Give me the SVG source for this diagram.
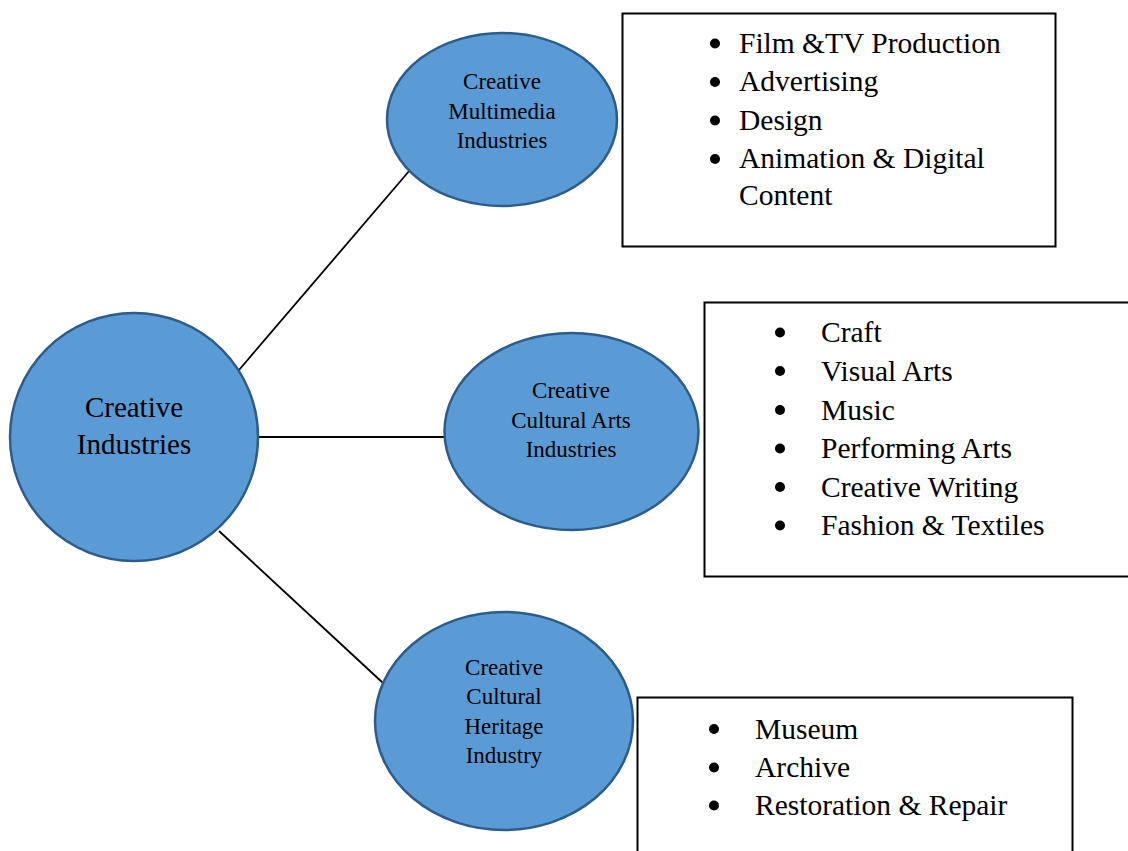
<svg xmlns="http://www.w3.org/2000/svg" width="1128" height="851" viewBox="0 0 1128 851">
  <style>
    .bubble { fill: #5B9BD5; stroke: #2E5C8A; stroke-width: 2.5; }
    .box { fill: #FFFFFF; stroke: #000000; stroke-width: 2; }
    .link { stroke: #000000; stroke-width: 1.8; fill: none; }
    .label { font-family: "Liberation Serif", "Times New Roman", serif; fill: #000000; text-anchor: middle; }
    .item { font-family: "Liberation Serif", "Times New Roman", serif; fill: #000000; font-size: 29.5px; }
    .dot { fill: #000000; }
  </style>
  <rect width="1128" height="851" fill="#FFFFFF"/>

  <!-- spokes from the hub to each branch -->
  <g id="connectors">
    <line class="link" x1="239" y1="370" x2="410" y2="170"/>
    <line class="link" x1="258" y1="437" x2="444" y2="437"/>
    <line class="link" x1="219" y1="531" x2="383" y2="683"/>
  </g>

  <!-- hub -->
  <g id="creative-industries">
    <ellipse class="bubble" cx="134" cy="437" rx="124" ry="124"/>
    <text class="label" font-size="29" x="134" y="417">Creative</text>
    <text class="label" font-size="29" x="134" y="454">Industries</text>
  </g>

  <!-- branch: multimedia -->
  <g id="multimedia">
    <ellipse class="bubble" cx="502" cy="119.5" rx="115" ry="86.5"/>
    <text class="label" font-size="23" x="502" y="89">Creative</text>
    <text class="label" font-size="23" x="502" y="118.5">Multimedia</text>
    <text class="label" font-size="23" x="502" y="147.5">Industries</text>
  </g>

  <!-- branch: cultural arts -->
  <g id="cultural-arts">
    <ellipse class="bubble" cx="571.5" cy="431.5" rx="127" ry="98.5"/>
    <text class="label" font-size="23" x="571" y="398">Creative</text>
    <text class="label" font-size="23" x="571" y="428">Cultural Arts</text>
    <text class="label" font-size="23" x="571" y="457">Industries</text>
  </g>

  <!-- branch: cultural heritage -->
  <g id="cultural-heritage">
    <ellipse class="bubble" cx="504" cy="721" rx="129" ry="109"/>
    <text class="label" font-size="23" x="504" y="674.5">Creative</text>
    <text class="label" font-size="23" x="504" y="704">Cultural</text>
    <text class="label" font-size="23" x="504" y="733.5">Heritage</text>
    <text class="label" font-size="23" x="504" y="763">Industry</text>
  </g>

  <!-- list: multimedia -->
  <g id="multimedia-list">
    <rect class="box" x="622.5" y="13.5" width="433" height="233"/>
    <circle class="dot" cx="715" cy="43.5" r="5"/>
    <circle class="dot" cx="715" cy="82" r="5"/>
    <circle class="dot" cx="715" cy="120.5" r="5"/>
    <circle class="dot" cx="715" cy="159" r="5"/>
    <text class="item" x="739" y="52.5">Film &amp;TV Production</text>
    <text class="item" x="739" y="91">Advertising</text>
    <text class="item" x="739" y="129.5">Design</text>
    <text class="item" x="739" y="168">Animation &amp; Digital</text>
    <text class="item" x="739" y="205">Content</text>
  </g>

  <!-- list: cultural arts -->
  <g id="cultural-arts-list">
    <rect class="box" x="704.5" y="302.5" width="440" height="274"/>
    <circle class="dot" cx="780" cy="332.5" r="5"/>
    <circle class="dot" cx="780" cy="371" r="5"/>
    <circle class="dot" cx="780" cy="410" r="5"/>
    <circle class="dot" cx="780" cy="448.5" r="5"/>
    <circle class="dot" cx="780" cy="487" r="5"/>
    <circle class="dot" cx="780" cy="525.5" r="5"/>
    <text class="item" x="821" y="342">Craft</text>
    <text class="item" x="821" y="381">Visual Arts</text>
    <text class="item" x="821" y="419.5">Music</text>
    <text class="item" x="821" y="458">Performing Arts</text>
    <text class="item" x="821" y="496.5">Creative Writing</text>
    <text class="item" x="821" y="535">Fashion &amp; Textiles</text>
  </g>

  <!-- list: cultural heritage -->
  <g id="cultural-heritage-list">
    <rect class="box" x="637.5" y="697.5" width="435" height="170"/>
    <circle class="dot" cx="714" cy="729" r="5"/>
    <circle class="dot" cx="714" cy="767.5" r="5"/>
    <circle class="dot" cx="714" cy="805.5" r="5"/>
    <text class="item" x="755" y="738.5">Museum</text>
    <text class="item" x="755" y="777">Archive</text>
    <text class="item" x="755" y="815">Restoration &amp; Repair</text>
  </g>
</svg>
